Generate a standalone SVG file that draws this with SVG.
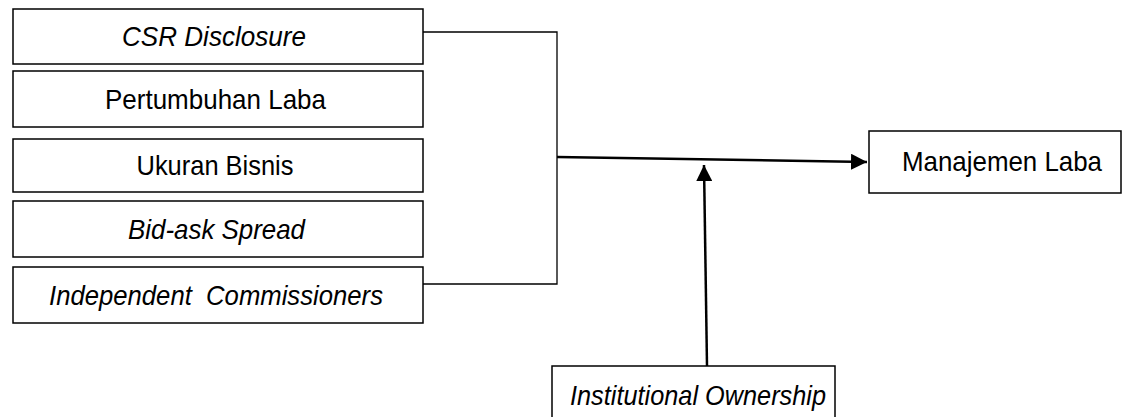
<svg xmlns="http://www.w3.org/2000/svg" width="1122" height="417" viewBox="0 0 1122 417">
<style>
.box{fill:#fff;stroke:#000;stroke-width:1.5}
.t{font-family:"Liberation Sans",Arial,sans-serif;font-size:28px;fill:#000;text-anchor:middle}
.i{font-style:italic}
.thin{fill:none;stroke:#000;stroke-width:1.3}
.thick{fill:none;stroke:#000;stroke-width:2.5}
</style>
<defs>
<marker id="ah" markerUnits="userSpaceOnUse" markerWidth="18" markerHeight="16" refX="16" refY="8" orient="auto">
<path d="M0,0 L16,8 L0,16 Z" fill="#000"/>
</marker>
</defs>
<rect width="1122" height="417" fill="#fff"/>
<g id="connectors">
<path class="thin" d="M423,32 H557 V284 H423"/>
<path class="thick" d="M557,157 L867,162" marker-end="url(#ah)"/>
<path class="thick" d="M707,366 L704,165" marker-end="url(#ah)"/>
</g>
<g id="csr"><rect class="box" x="13" y="9" width="410" height="55"/><text class="t i" x="214" y="46" textLength="184" lengthAdjust="spacingAndGlyphs">CSR Disclosure</text></g>
<g id="pertumbuhan"><rect class="box" x="13" y="71" width="410" height="56"/><text class="t" x="215.5" y="109" textLength="221" lengthAdjust="spacingAndGlyphs">Pertumbuhan Laba</text></g>
<g id="ukuran"><rect class="box" x="13" y="139" width="410" height="53"/><text class="t" x="215" y="175" textLength="157" lengthAdjust="spacingAndGlyphs">Ukuran Bisnis</text></g>
<g id="bidask"><rect class="box" x="13" y="201" width="410" height="56"/><text class="t i" x="216.5" y="239" textLength="177" lengthAdjust="spacingAndGlyphs">Bid-ask Spread</text></g>
<g id="independent"><rect class="box" x="13" y="267" width="410" height="56"/><text class="t i" x="216" y="305" textLength="334" lengthAdjust="spacingAndGlyphs" xml:space="preserve">Independent  Commissioners</text></g>
<g id="manajemen"><rect class="box" x="869" y="131" width="252" height="62"/><text class="t" x="1002" y="171" textLength="200" lengthAdjust="spacingAndGlyphs">Manajemen Laba</text></g>
<g id="institutional"><rect class="box" x="552" y="366" width="283" height="70"/><text class="t i" x="698" y="405" textLength="256" lengthAdjust="spacingAndGlyphs">Institutional Ownership</text></g>
</svg>
